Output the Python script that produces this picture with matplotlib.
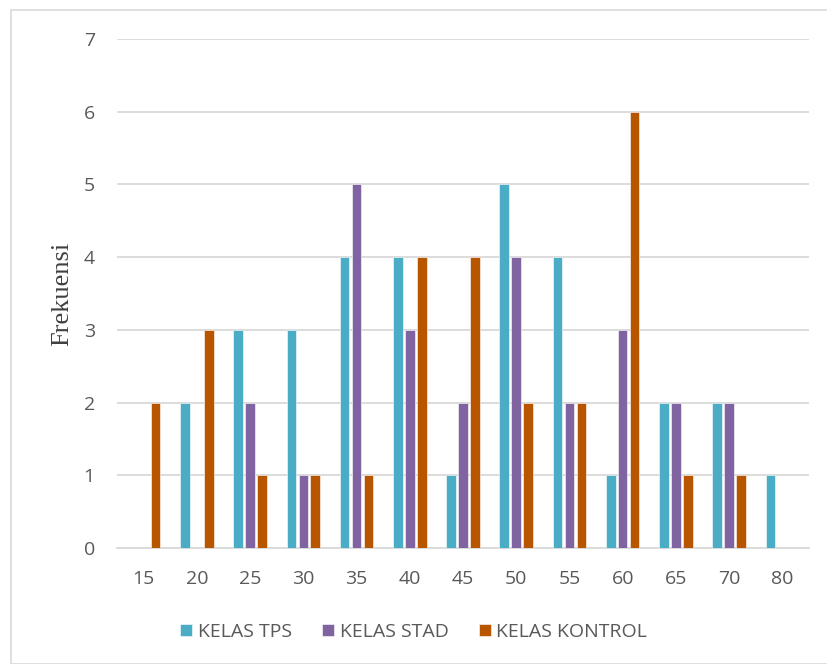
import matplotlib
matplotlib.use("Agg")
import matplotlib.pyplot as plt
import numpy as np
from matplotlib.patches import Rectangle

categories = ["15", "20", "25", "30", "35", "40", "45", "50", "55", "60", "65", "70", "80"]
kelas_tps = [0, 2, 3, 3, 4, 4, 1, 5, 4, 1, 2, 2, 1]
kelas_stad = [0, 0, 2, 1, 5, 3, 2, 4, 2, 3, 2, 2, 0]
kelas_kontrol = [2, 3, 1, 1, 1, 4, 4, 2, 2, 6, 1, 1, 0]
series_names = ["KELAS TPS", "KELAS STAD", "KELAS KONTROL"]
colors = ["#4BACC6", "#8064A2", "#B85600"]

W, H = 827, 664
fig = plt.figure(figsize=(W/100, H/100), dpi=100)
fig.patches.append(Rectangle((11/W, 0), 1.0, (H-10)/H, transform=fig.transFigure,
                             fill=False, edgecolor="#d9d9d9", linewidth=1.2))
ax = fig.add_axes([117/W, (H-548)/H, (809-117)/W, (548-39)/H])

x = np.arange(len(categories))
w = 0.18
off = 0.225
for i, (vals, name, c) in enumerate(zip([kelas_tps, kelas_stad, kelas_kontrol], series_names, colors)):
    ax.bar(x + (i-1)*off, vals, width=w, color=c, label=name, zorder=3,
           edgecolor="white", linewidth=0.4)

ax.set_xlim(-0.5, len(categories)-0.5)
ax.set_ylim(0, 7)
ax.set_yticks(range(0, 8))
ax.set_xticks(x)
ax.set_xticklabels(categories)
ax.yaxis.grid(True, color="#d9d9d9", linewidth=1.3, zorder=0)
for s in ["top", "right", "left"]:
    ax.spines[s].set_visible(False)
ax.spines["bottom"].set_color("#d9d9d9")
ax.spines["bottom"].set_linewidth(1.3)
ax.tick_params(axis="both", length=0, labelsize=14, labelcolor="#595959")
ax.tick_params(axis="x", pad=16)
ax.tick_params(axis="y", pad=16)
for lbl in ax.get_xticklabels() + ax.get_yticklabels():
    lbl.set_family("Open Sans")
fig.text(62/W, 1-294/H, "Frekuensi", family="Liberation Serif", fontsize=19, color="#404040",
         rotation=90, ha="center", va="center")

leg = fig.legend(loc="center", bbox_to_anchor=(0.5, 1-632/H), ncol=3, frameon=False,
                 prop={"family": "Open Sans", "size": 14}, handlelength=0.62, handleheight=0.62,
                 columnspacing=1.55, handletextpad=0.3)
for t in leg.get_texts():
    t.set_color("#595959")

fig.savefig("out.png", dpi=100)
